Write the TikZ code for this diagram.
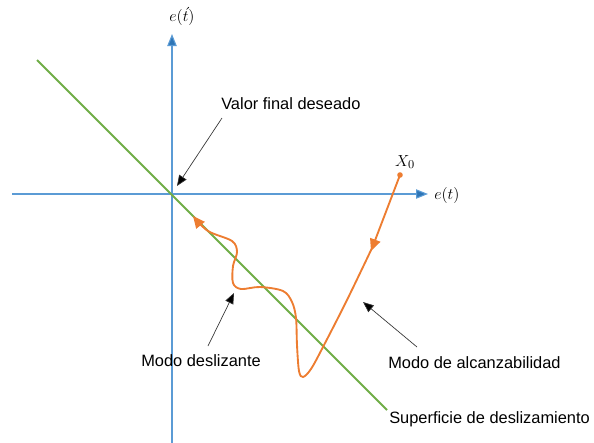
\documentclass[tikz,border=0pt]{standalone}
\usepackage{fontspec}
\setmainfont{Liberation Sans}
\usetikzlibrary{arrows.meta}
\definecolor{axisblue}{HTML}{5B9BD5}
\definecolor{axisblueD}{HTML}{2E75B6}
\definecolor{surfgreen}{HTML}{70AD47}
\definecolor{traj}{HTML}{ED7D31}
\begin{document}
\begin{tikzpicture}[x=0.75pt,y=-0.75pt,
  axis/.style={draw=axisblue,line width=0.8pt,-{Triangle[length=9pt,width=7pt,fill=axisblueD]}},
  lbl/.style={font=\fontsize{12.3}{15}\selectfont,inner sep=0pt},
  mathlbl/.style={font=\fontsize{13}{15}\selectfont,inner sep=0pt},
  pointer/.style={draw=black!80,line width=0.5pt,-{Triangle[length=8pt,width=6.5pt,fill=black]}},
  trajline/.style={draw=traj,line width=1.4pt,line cap=round,line join=round},
  trajtip/.style={-{Triangle[length=9pt,width=8pt,fill=traj]}}
]
\useasboundingbox (0,0) rectangle (594,443);
% axes
\coordinate (hx0) at (12,194);
\coordinate (hx1) at (428,194);
\coordinate (vy0) at (172,443);
\coordinate (vy1) at (172,34);
\draw[axis] (hx0) -- (hx1);
\draw[axis] (vy0) -- (vy1);
\node[mathlbl,anchor=west] (ex) at (434,195) {$e(t)$};
\node[mathlbl] (ey) at (182,16) {$e(\acute{t})$};
% sliding surface
\coordinate (s0) at (37,60);
\coordinate (s1) at (387,410);
\draw[surfgreen,line width=1.4pt] (s0) -- (s1);
% trajectory
\coordinate (X0) at (400,175);
\coordinate (mid) at (371,251);
\fill[traj] (X0) circle (2.8);
\node[mathlbl,anchor=south] (x0l) at (405,169) {$X_0$};
\draw[trajline,trajtip] (X0) -- (mid);
\draw[trajline,trajtip] plot[smooth,tension=0.55] coordinates {
 (373,246) (347,300) (323,347) (311,369) (303,377) (299,371) (297,345) (296,318)
 (292,302) (283,291) (260,287) (241,289) (233,283) (233,266) (237,252) (232,241)
 (208,231) (193,216)};
% labels
\node[lbl,anchor=west] (vf) at (221,104) {Valor final deseado};
\node[lbl] (md) at (201,361) {Modo deslizante};
\node[lbl,anchor=west] (ma) at (388,363) {Modo de alcanzabilidad};
\node[lbl,anchor=west] (sd) at (389,419) {Superficie de deslizamiento};
% pointers
\coordinate (p1) at (177,186);
\coordinate (p2) at (234,293);
\coordinate (p3) at (363,302);
\draw[pointer] (222,118) -- (p1);
\draw[pointer] (208,346) -- (p2);
\draw[pointer] (417,347) -- (p3);
\end{tikzpicture}
\end{document}
